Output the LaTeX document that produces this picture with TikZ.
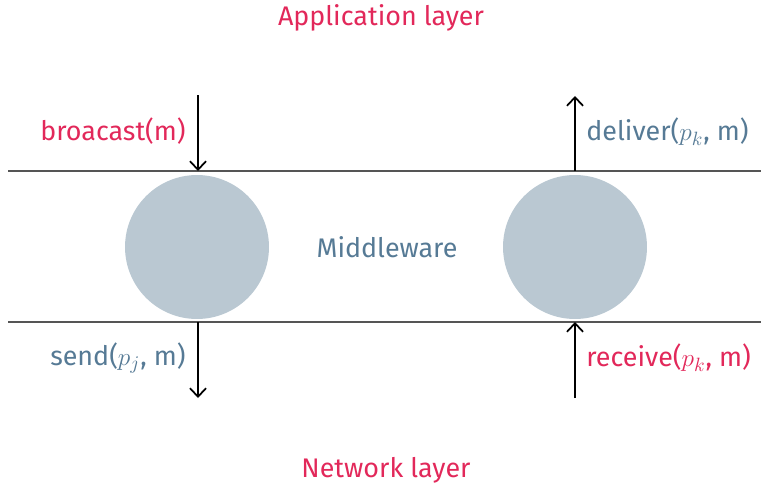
\documentclass[tikz,border=0pt]{standalone}
\usepackage{fontspec}
\setmainfont{Fira Sans}
\usetikzlibrary{positioning,arrows.meta}
\definecolor{redtxt}{HTML}{E2285A}
\definecolor{bluetxt}{HTML}{567A95}
\definecolor{ballfill}{HTML}{BAC8D2}
\definecolor{linegray}{HTML}{555555}
\tikzset{
    ball/.style={circle,fill=ballfill,minimum size=2.88cm,inner sep=0pt},
    lbl/.style={font=\fontsize{15.3}{18}\selectfont,inner sep=0pt},
    layer/.style={draw=linegray,line width=0.7pt},
    call/.style={-{Straight Barb[length=1.7mm,width=3.2mm]},line width=1pt,black}
}
\begin{document}
\begin{tikzpicture}
    [x=0.02cm,y=-0.02cm]
    \useasboundingbox (0,0) rectangle (761,487);
    %layer titles
    \node[lbl,text=redtxt] (app) at (381,18) {Application layer};
    \node[lbl,text=redtxt] (net) at (386,470) {Network layer};
    %middleware band
    \draw[layer] (8,171)--(761,171);
    \draw[layer] (8,322)--(761,322);
    \node[ball] (lball) at (197,247) {};
    \node[ball] (rball) at (575,247) {};
    \node[lbl,text=bluetxt] (mw) at (387,247) {Middleware};
    %end points of the calls
    \coordinate (bin) at (198,95);
    \coordinate (btop) at (198,171);
    \coordinate (sbot) at (198,322);
    \coordinate (sout) at (198,398);
    \coordinate (dout) at (575,96);
    \coordinate (dtop) at (575,171);
    \coordinate (rbot) at (575,322);
    \coordinate (rin) at (575,398);
    %calls
    \draw[call] (bin)--(btop);
    \draw[call] (sbot)--(sout);
    \draw[call] (dtop)--(dout);
    \draw[call] (rin)--(rbot);
    %labels
    \node[lbl,text=redtxt,anchor=east] (bcast) at (186,131) {broacast(m)};
    \node[lbl,text=bluetxt,anchor=east] (send) at (186,358) {send($p_j$, m)};
    \node[lbl,text=bluetxt,anchor=west] (deliver) at (586,132) {deliver($p_k$, m)};
    \node[lbl,text=redtxt,anchor=west] (recv) at (586,358) {receive($p_k$, m)};
\end{tikzpicture}
\end{document}
